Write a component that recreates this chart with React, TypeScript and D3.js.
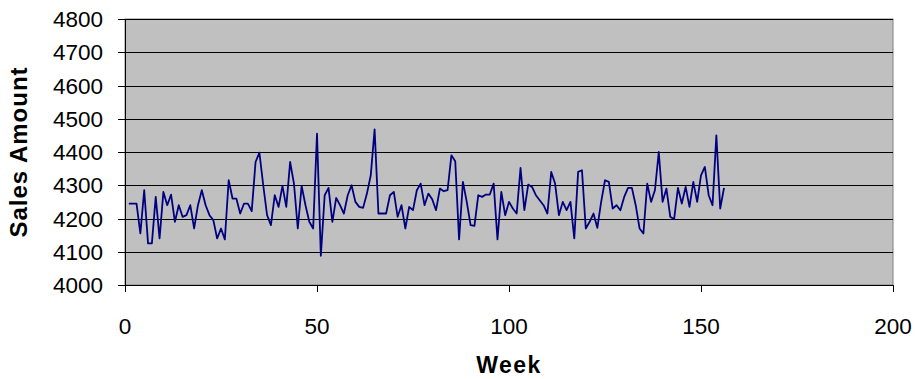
import React from "react";
import * as d3 from "d3";

const weeks: number[] = Array.from({ length: 156 }, (_, i) => i + 1);
const sales: number[] = [
  4245, 4245, 4245, 4155, 4285, 4125, 4125, 4265, 4140, 4280,
  4240, 4272, 4190, 4240, 4205, 4210, 4240, 4170, 4240, 4285,
  4240, 4210, 4195, 4140, 4170, 4137, 4315, 4260, 4260, 4215,
  4245, 4245, 4222, 4370, 4398, 4300, 4210, 4180, 4270, 4235,
  4298, 4235, 4370, 4305, 4170, 4298, 4240, 4190, 4170, 4455,
  4088, 4270, 4292, 4190, 4262, 4240, 4215, 4270, 4300, 4250,
  4235, 4232, 4275, 4330, 4468, 4215, 4215, 4215, 4270, 4280,
  4205, 4240, 4170, 4235, 4225, 4285, 4305, 4240, 4275, 4258,
  4225, 4290, 4282, 4285, 4390, 4372, 4137, 4310, 4250, 4180,
  4178, 4270, 4265, 4272, 4272, 4305, 4137, 4280, 4210, 4250,
  4230, 4215, 4352, 4225, 4302, 4295, 4270, 4255, 4240, 4215,
  4340, 4305, 4210, 4250, 4225, 4250, 4140, 4340, 4345, 4170,
  4190, 4215, 4172, 4250, 4315, 4310, 4230, 4240, 4225, 4265,
  4292, 4292, 4240, 4170, 4155, 4305, 4250, 4285, 4400, 4250,
  4290, 4205, 4198, 4292, 4245, 4295, 4235, 4310, 4250, 4330,
  4355, 4270, 4240, 4450, 4230, 4292,
];
const xTicks: number[] = [0, 50, 100, 150, 200];
const yTicks: number[] = [4000, 4100, 4200, 4300, 4400, 4500, 4600, 4700, 4800];

const W = 920;
const H = 379;
const plot = { left: 125, right: 893, top: 19, bottom: 285 };

export default function App() {
  const x = d3.scaleLinear().domain([0, 200]).range([plot.left, plot.right]);
  const y = d3.scaleLinear().domain([4000, 4800]).range([plot.bottom, plot.top]);
  const line = d3
    .line<number>()
    .x((_, i) => x(weeks[i]))
    .y((d) => y(d));
  const font = "'Liberation Sans', Arial, sans-serif";
  return (
    <svg
      width={W}
      height={H}
      style={{ position: "absolute", left: 0, top: 0, background: "#fff" }}
    >
      <rect
        x={plot.left}
        y={plot.top}
        width={plot.right - plot.left}
        height={plot.bottom - plot.top}
        fill="#C0C0C0"
        stroke="#808080"
        strokeWidth={1}
      />
      {yTicks.map((t) => (
        <line
          key={"g" + t}
          x1={plot.left}
          x2={plot.right}
          y1={Math.round(y(t)) + 0.5}
          y2={Math.round(y(t)) + 0.5}
          stroke="#000"
          strokeWidth={1}
        />
      ))}
      <line x1={plot.left + 0.5} x2={plot.left + 0.5} y1={plot.top} y2={plot.bottom} stroke="#000" />
      {yTicks.map((t) => (
        <g key={"y" + t}>
          <line
            x1={plot.left - 7}
            x2={plot.left}
            y1={Math.round(y(t)) + 0.5}
            y2={Math.round(y(t)) + 0.5}
            stroke="#000"
          />
          <text
            x={103}
            y={y(t)}
            dy="0.36em"
            textAnchor="end"
            fontFamily={font}
            fontSize={22.5}
            fill="#000"
          >
            {t}
          </text>
        </g>
      ))}
      <line x1={plot.left} x2={plot.right} y1={plot.bottom + 0.5} y2={plot.bottom + 0.5} stroke="#000" />
      {xTicks.map((t) => (
        <g key={"x" + t}>
          <line
            x1={Math.round(x(t)) + 0.5}
            x2={Math.round(x(t)) + 0.5}
            y1={plot.bottom}
            y2={plot.bottom + 7}
            stroke="#000"
          />
          <text
            x={x(t)}
            y={326}
            dy="0.36em"
            textAnchor="middle"
            fontFamily={font}
            fontSize={22.5}
            fill="#000"
          >
            {t}
          </text>
        </g>
      ))}
      <path d={line(sales) || ""} fill="none" stroke="#000080" strokeWidth={1.8} strokeLinejoin="round" />
      <text
        transform={`translate(27, ${(plot.top + plot.bottom) / 2}) rotate(-90)`}
        textAnchor="middle"
        fontFamily={font}
        fontSize={24}
        fontWeight="bold"
        letterSpacing={1}
        fill="#000"
      >
        Sales Amount
      </text>
      <text
        x={x(100)}
        y={373}
        textAnchor="middle"
        fontFamily={font}
        fontSize={23}
        fontWeight="bold"
        letterSpacing={1.5}
        fill="#000"
      >
        Week
      </text>
    </svg>
  );
}
